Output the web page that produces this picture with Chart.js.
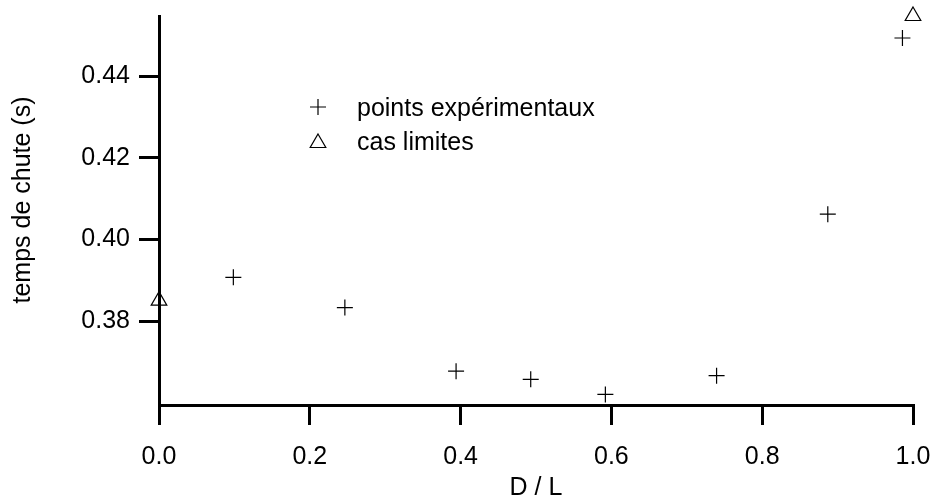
<!DOCTYPE html>
<html lang="fr">
<head>
  <meta charset="UTF-8">
  <title>Temps de chute</title>
  <script src="https://cdn.jsdelivr.net/npm/chart.js"></script>
  <style>
    body { margin: 0; background: #fff; }
    .wrap { width: 934px; height: 500px; }
  </style>
</head>
<body>
  <div class="wrap"><canvas id="chuteChart"></canvas></div>

  <script>
    // mesures : D/L et temps de chute (s)
    const expX = [0.0986, 0.2465, 0.394, 0.493, 0.592, 0.7395, 0.887, 0.986];
    const expY = [0.3907, 0.3833, 0.3677, 0.3657, 0.3620, 0.3666, 0.4062, 0.4494];
    // cas limites D/L = 0 et D/L = 1
    const limX = [0, 1];
    const limY = [0.385, 0.4548];

    const xTicks = [0.0, 0.2, 0.4, 0.6, 0.8, 1.0];
    const yTicks = [0.38, 0.40, 0.42, 0.44];
    const xRange = [0, 1];
    const yRange = [0.3594, 0.4548];

    const legendItems = ["points expérimentaux", "cas limites"];
    const xTitle = "D / L";
    const yTitle = "temps de chute (s)";

    const FONT = '"Liberation Sans", Arial, sans-serif';
    Chart.defaults.font.family = FONT;
    Chart.defaults.font.size = 25;
    Chart.defaults.color = '#000';

    // legende dans le cadre + titre vertical
    const extras = {
      id: 'extras',
      afterDraw(chart) {
        const ctx = chart.ctx;
        ctx.save();
        ctx.strokeStyle = '#000';
        ctx.lineWidth = 1.2;
        // croix
        ctx.beginPath();
        ctx.moveTo(310, 107); ctx.lineTo(326, 107);
        ctx.moveTo(318, 99); ctx.lineTo(318, 115);
        ctx.stroke();
        // triangle
        ctx.beginPath();
        ctx.moveTo(318, 134); ctx.lineTo(325.8, 147.5); ctx.lineTo(310.2, 147.5);
        ctx.closePath();
        ctx.stroke();

        ctx.fillStyle = '#000';
        ctx.font = '25px ' + FONT;
        ctx.textBaseline = 'middle';
        ctx.textAlign = 'left';
        ctx.fillText(legendItems[0], 357, 109);
        ctx.fillText(legendItems[1], 357, 143);

        ctx.translate(23, 200);
        ctx.rotate(-Math.PI / 2);
        ctx.textAlign = 'center';
        ctx.fillText(yTitle, 0, 0);
        ctx.restore();
      }
    };

    new Chart(document.getElementById('chuteChart'), {
      type: 'scatter',
      data: {
        datasets: [
          {
            label: legendItems[0],
            data: expX.map((x, i) => ({ x, y: expY[i] })),
            pointStyle: 'cross',
            radius: 8,
            borderColor: '#000',
            borderWidth: 1.2,
            clip: false
          },
          {
            label: legendItems[1],
            data: limX.map((x, i) => ({ x, y: limY[i] })),
            pointStyle: 'triangle',
            radius: 9,
            borderColor: '#000',
            backgroundColor: 'rgba(0,0,0,0)',
            borderWidth: 1.2,
            clip: false
          }
        ]
      },
      options: {
        responsive: true,
        maintainAspectRatio: false,
        animation: false,
        layout: { padding: { top: 16, right: 21, left: 0, bottom: 0 } },
        plugins: { legend: { display: false }, tooltip: { enabled: false } },
        scales: {
          x: {
            type: 'linear',
            min: xRange[0], max: xRange[1],
            afterBuildTicks: s => { s.ticks = xTicks.map(v => ({ value: v })); },
            afterFit: s => { s.height = 95; s.paddingLeft = 0; s.paddingRight = 0; },
            border: { display: true, width: 3, color: '#000' },
            grid: { drawOnChartArea: false, drawTicks: true, tickLength: 20, lineWidth: 3, color: '#000' },
            ticks: { padding: 17, color: '#000', callback: v => v.toFixed(1) },
            title: { display: true, text: xTitle, color: '#000', padding: { top: 0, bottom: -3 } }
          },
          y: {
            type: 'linear',
            min: yRange[0], max: yRange[1],
            afterBuildTicks: s => { s.ticks = yTicks.map(v => ({ value: v })); },
            afterFit: s => { s.width = 159; s.paddingTop = 0; s.paddingBottom = 0; },
            border: { display: true, width: 3, color: '#000' },
            grid: { drawOnChartArea: false, drawTicks: true, tickLength: 20, lineWidth: 3, color: '#000' },
            ticks: { padding: 9, color: '#000', callback: v => v.toFixed(2) }
          }
        }
      },
      plugins: [extras]
    });
  </script>
</body>
</html>
